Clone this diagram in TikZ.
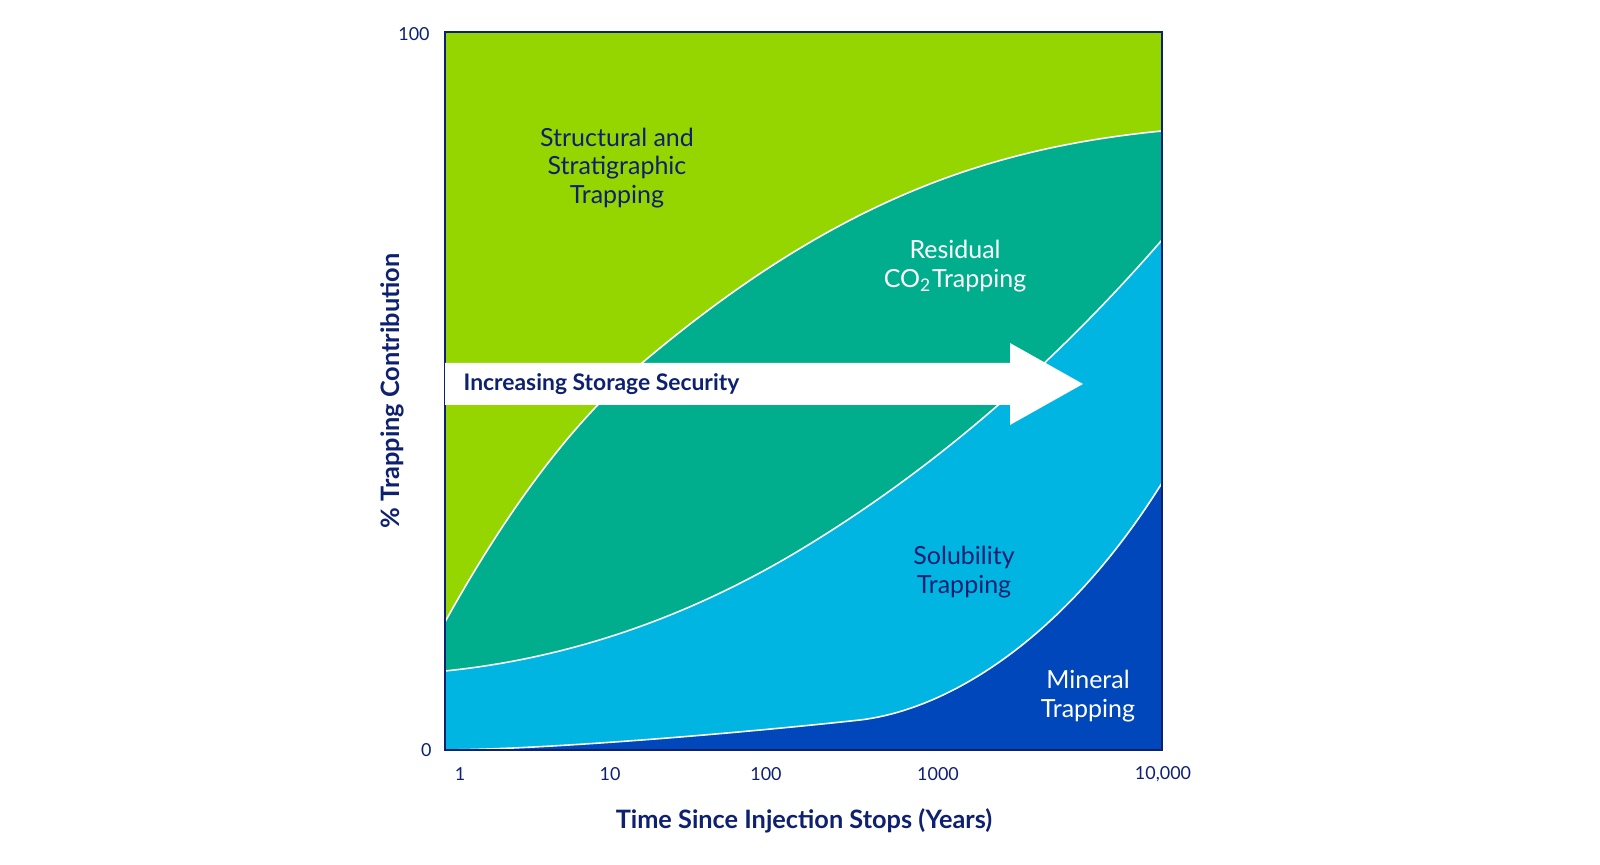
\documentclass[tikz,border=0pt]{standalone}
\usepackage{fontspec}
\setmainfont{Lato}
\definecolor{lime}{RGB}{149,214,0}
\definecolor{teal}{RGB}{0,174,142}
\definecolor{sky}{RGB}{0,181,226}
\definecolor{deep}{RGB}{0,71,187}
\definecolor{navy}{RGB}{14,32,112}
\begin{document}
\begin{tikzpicture}[x=0.01cm, y=-0.01cm,
	region/.style={align=center, font=\fontsize{7.1}{8.05}\selectfont},
	ticklabel/.style={text=navy, font=\fontsize{5.1}{6}\selectfont},
	axistitle/.style={text=navy, font=\fontsize{7.2}{8}\selectfont\bfseries},
	edge/.style={white, line width=0.45pt}]
	\useasboundingbox (0,0) rectangle (1600,865);
	\fill[lime] (445,32) rectangle (1162,750);
	\fill[teal] (445,622) .. controls (511,503) and (576,419) .. (642,363) .. controls (835,200) and (989,148) .. (1162,131) -- (1162,750) -- (445,750) -- cycle;
	\fill[sky] (445,671) .. controls (563,659) and (682,621) .. (800,550) .. controls (921,477) and (1041,379) .. (1162,240) -- (1162,750) -- (445,750) -- cycle;
	\fill[deep] (445,750) .. controls (560,749) and (760,731) .. (860,720) .. controls (945,710) and (1062,643) .. (1162,483) -- (1162,750) -- cycle;
	\draw[edge] (445,622) .. controls (511,503) and (576,419) .. (642,363) .. controls (835,200) and (989,148) .. (1162,131);
	\draw[edge] (445,671) .. controls (563,659) and (682,621) .. (800,550) .. controls (921,477) and (1041,379) .. (1162,240);
	\draw[edge] (445,750) .. controls (560,749) and (760,731) .. (860,720) .. controls (945,710) and (1062,643) .. (1162,483);
	\draw[navy, line width=0.6pt] (445,32) rectangle (1162,750);
	\fill[white] (445,363) -- (1010,363) -- (1010,343) -- (1083,384) -- (1010,425) -- (1010,405) -- (445,405) -- cycle;
	\node[anchor=west, inner sep=0pt, text=navy, font=\fontsize{6.5}{7}\selectfont\bfseries] (security) at (463,384) {Increasing Storage Security};
	\node[region, text=navy] (structural) at (617,168) {Structural and\\Stratigraphic\\Trapping};
	\node[region, text=white] (residual) at (955,266) {Residual\\CO\textsubscript{2}Trapping};
	\node[region, text=navy] (solubility) at (964,572) {Solubility\\Trapping};
	\node[region, text=white] (mineral) at (1088,696) {Mineral\\Trapping};
	\node[ticklabel, anchor=east] (yhigh) at (442,34) {100};
	\node[ticklabel, anchor=east] (ylow) at (444,750) {0};
	\node[ticklabel] (x1) at (460,774) {1};
	\node[ticklabel] (x10) at (610,774) {10};
	\node[ticklabel] (x100) at (766,774) {100};
	\node[ticklabel] (x1000) at (938,774) {1000};
	\node[ticklabel] (x10000) at (1163,774) {10,000};
	\node[axistitle] (xtitle) at (804,821) {Time Since Injection Stops (Years)};
	\node[axistitle, rotate=90] (ytitle) at (392,391) {\% Trapping Contribution};
\end{tikzpicture}
\end{document}
